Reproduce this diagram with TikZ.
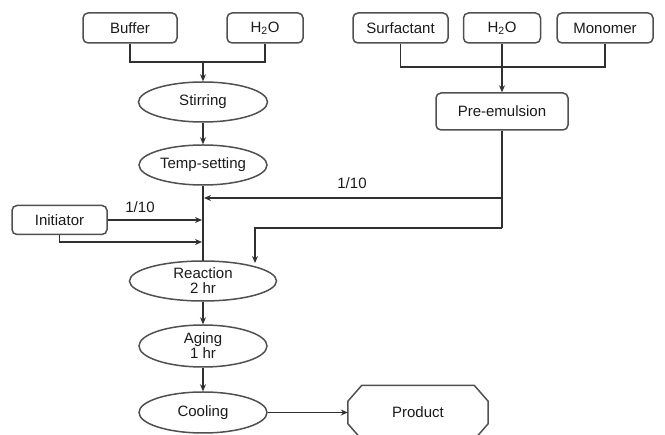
\documentclass[tikz,border=0pt]{standalone}
\usepackage{fontspec}
\setmainfont{Liberation Sans}
\usetikzlibrary{shapes.geometric,arrows.meta}
\definecolor{ln}{HTML}{303030}
\definecolor{bd}{HTML}{505050}
\definecolor{tx}{HTML}{1A1A1A}
\tikzset{
  base/.style={font=\fontsize{15}{17}\selectfont, text=tx, inner sep=0pt, align=center},
  box/.style={base, draw=bd, line width=1.5pt, rounded corners=5pt, minimum height=30pt},
  oval/.style={base, draw=bd, line width=1.5pt, ellipse, minimum width=128pt, minimum height=40pt},
  conn/.style={draw=ln, line width=1.6pt},
  arr/.style={conn, -{Stealth[length=7pt,width=6pt]}},
  lbl/.style={base}
}
\begin{document}
\begin{tikzpicture}[x=1pt,y=-1pt]
\useasboundingbox (0,0) rectangle (665,435);
\clip (0,0) rectangle (665,435);
% left inputs
\node[box, minimum width=94pt] (buffer) at (130,28) {Buffer};
\node[box, minimum width=76pt] (water1) at (265,28) {H\textsubscript{2}O};
% right inputs
\node[box, minimum width=95pt] (surf) at (400.5,28) {Surfactant};
\node[box, minimum width=77pt] (water2) at (502,28) {H\textsubscript{2}O};
\node[box, minimum width=96pt] (mono) at (605,28) {Monomer};
\node[box, minimum width=132pt, minimum height=37pt] (pre) at (502,111.5) {Pre-emulsion};
% main column
\node[oval, minimum width=129pt] (stir) at (203,102) {Stirring};
\node[oval] (temp) at (203,165) {Temp-setting};
\node[box, minimum width=95pt, minimum height=29pt] (init) at (59.5,220) {Initiator};
\node[oval, minimum width=147pt, minimum height=40pt] (react) at (203,281) {Reaction\\[-2pt]2 hr};
\node[oval, minimum height=42pt] (aging) at (203,346) {Aging\\[-2pt]1 hr};
\node[oval, minimum height=41pt] (cool) at (203,412.5) {Cooling};
\node[base, minimum width=140pt, minimum height=54pt] (prod) at (418,412.5) {Product};
\draw[draw=bd, line width=1.5pt]
  ([xshift=14pt]prod.north west) -- ([xshift=-14pt]prod.north east)
  -- ([yshift=-16pt]prod.north east) -- ([yshift=16pt]prod.south east)
  -- ([xshift=-14pt]prod.south east) -- ([xshift=14pt]prod.south west)
  -- ([yshift=16pt]prod.south west) -- ([yshift=-16pt]prod.north west) -- cycle;
% joins
\coordinate (j1) at (203,62);
\draw[conn] (buffer.south) |- (j1) -| (water1.south);
\draw[arr] (j1) -- (stir.north);
\coordinate (j2) at (502,67);
\draw[conn] (surf.south) |- (j2) -| (mono.south);
\draw[conn] (water2.south) -- (j2);
\draw[arr] (j2) -- (pre.north);
\draw[arr] (stir.south) -- (temp.north);
\draw[conn] (temp.south) -- (203,261);
% pre-emulsion feeds
\coordinate (p1) at (502,198);
\coordinate (p2) at (502,228);
\coordinate (t1) at (204,198);
\coordinate (r1) at (255,228);
\draw[conn] (pre.south) -- (p2);
\draw[arr] (p1) -- (t1);
\draw[arr] (p2) -- (r1) -- (255,263);
\node[lbl] (l1) at (352,183) {1/10};
% initiator feeds
\coordinate (t2) at (202,220);
\coordinate (t3) at (202,242);
\draw[arr] (init.east) -- (t2);
\draw[arr] (init.south) |- (t3);
\node[lbl] (l2) at (140,207) {1/10};
% bottom
\draw[arr] (react.south) -- (aging.north);
\draw[arr] (aging.south) -- (cool.north);
\draw[arr] (cool.east) -- (prod.west);
\end{tikzpicture}
\end{document}
